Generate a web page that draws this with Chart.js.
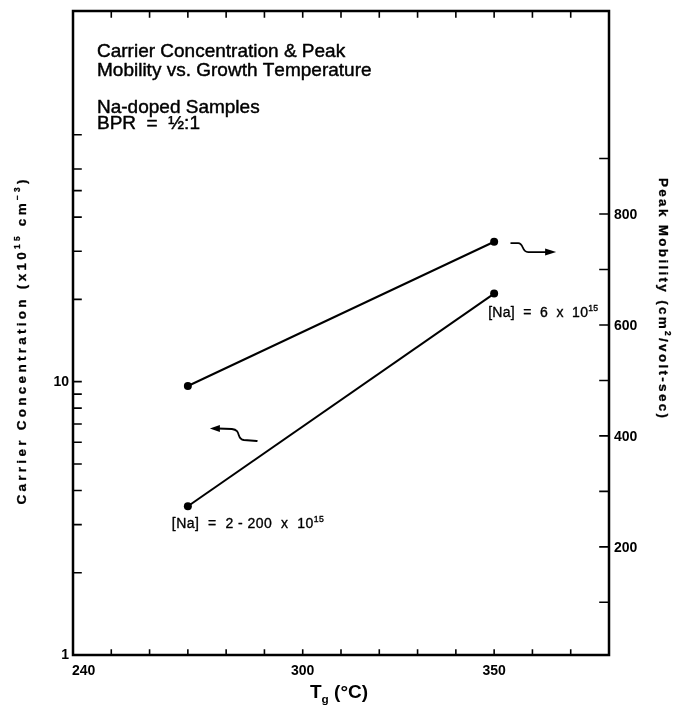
<!DOCTYPE html>
<html>
<head>
<meta charset="utf-8">
<script src="https://cdn.jsdelivr.net/npm/chart.js@4.4.1/dist/chart.umd.min.js"></script>
<style>
  html, body { margin: 0; padding: 0; background: #fff; }
  canvas { display: block; }
</style>
</head>
<body>
<canvas id="chart" width="678" height="714"></canvas>
<script>
// Growth temperature (°C) of the Na-doped samples
const growthTemps = [270, 350];
// Carrier concentration, x10^15 cm^-3 (left, logarithmic axis)
const carrierConc = [3.5, 21];
// Peak mobility, cm^2/volt-sec (right axis)
const peakMobility = [490, 750];

// Axis ticks and the labels printed beside them
const xTickValues = [240, 250, 260, 270, 280, 290, 300, 310, 320, 330, 340, 350, 360, 370, 380];
const xTickLabels = ['240', '300', '350'];
const leftTickValues = [1, 2, 3, 4, 5, 6, 7, 8, 9, 10, 20, 30, 40, 50, 60, 80];
const leftTickLabels = ['1', '10'];
const rightTickValues = [100, 200, 300, 400, 500, 600, 700, 800, 900];
const rightTickLabels = ['200', '400', '600', '800'];

const FONT = '"Liberation Sans", Arial, Helvetica, sans-serif';
const INK = '#000';

// Rich text: runs of plain / superscript / subscript characters,
// optionally spread out to a given overall width.
function runChars(runs, size) {
  const out = [];
  for (const r of runs) {
    const s = (r.sup || r.sub) ? size * 0.62 : size;
    const dy = r.sup ? -size * 0.42 : (r.sub ? size * 0.28 : 0);
    for (const ch of r.t) out.push({ ch, s, dy });
  }
  return out;
}
function drawRuns(ctx, runs, x, y, o) {
  const size = o.size, weight = o.weight || 'normal';
  const chars = runChars(runs, size);
  let natural = 0;
  for (const c of chars) {
    ctx.font = `${weight} ${c.s}px ${FONT}`;
    c.w = ctx.measureText(c.ch).width;
    natural += c.w;
  }
  const extra = o.width ? (o.width - natural) / Math.max(1, chars.length - 1) : 0;
  const total = natural + extra * (chars.length - 1);
  let cx = x;
  if (o.align === 'center') cx = x - total / 2;
  else if (o.align === 'right') cx = x - total;
  ctx.textAlign = 'left';
  ctx.textBaseline = 'alphabetic';
  ctx.fillStyle = INK;
  ctx.strokeStyle = INK;
  ctx.lineWidth = o.ink || 0;
  ctx.lineJoin = 'round';
  for (const c of chars) {
    ctx.font = `${weight} ${c.s}px ${FONT}`;
    ctx.fillText(c.ch, cx, y + c.dy);
    if (o.ink) ctx.strokeText(c.ch, cx, y + c.dy);
    cx += c.w + extra;
  }
}
function drawRotated(ctx, runs, cx, cy, angle, o) {
  ctx.save();
  ctx.translate(cx, cy);
  ctx.rotate(angle);
  drawRuns(ctx, runs, 0, o.size * 0.36, Object.assign({ align: 'center' }, o));
  ctx.restore();
}

// Wavy pointer arrows that tell which axis each curve belongs to
function drawWavyArrow(ctx, p, shape) {
  const P = (d) => [p.x + d[0], p.y + d[1]];
  ctx.save();
  ctx.strokeStyle = INK;
  ctx.fillStyle = INK;
  ctx.lineWidth = 1.8;
  ctx.lineCap = 'round';
  ctx.beginPath();
  const s = P(shape.start), l1 = P(shape.l1), c1 = P(shape.c1), c2 = P(shape.c2), e = P(shape.e), l2 = P(shape.l2);
  ctx.moveTo(s[0], s[1]);
  ctx.lineTo(l1[0], l1[1]);
  ctx.bezierCurveTo(c1[0], c1[1], c2[0], c2[1], e[0], e[1]);
  ctx.lineTo(l2[0], l2[1]);
  ctx.stroke();
  const tip = P(shape.tip), b1 = P(shape.b1), b2 = P(shape.b2);
  ctx.beginPath();
  ctx.moveTo(tip[0], tip[1]);
  ctx.lineTo(b1[0], b1[1]);
  ctx.lineTo(b2[0], b2[1]);
  ctx.closePath();
  ctx.fill();
  ctx.restore();
}

const decorations = {
  id: 'decorations',
  afterDatasetsDraw(chart) {
    const ctx = chart.ctx;
    const a = chart.chartArea;
    const xs = chart.scales.x, yl = chart.scales.y, yr = chart.scales.y1;

    ctx.save();
    ctx.strokeStyle = INK;
    ctx.lineCap = 'square';

    // Frame
    ctx.lineWidth = 2.5;
    ctx.strokeRect(a.left, a.top, a.right - a.left, a.bottom - a.top);

    // Inward tick marks
    ctx.lineWidth = 1.6;
    ctx.beginPath();
    for (const v of xTickValues) {
      const px = xs.getPixelForValue(v);
      if (px <= a.left + 1 || px >= a.right - 1) continue;
      ctx.moveTo(px, a.bottom); ctx.lineTo(px, a.bottom - 5);
      ctx.moveTo(px, a.top); ctx.lineTo(px, a.top + 6);
    }
    for (const v of leftTickValues) {
      const py = yl.getPixelForValue(v);
      if (py >= a.bottom - 1) continue;
      ctx.moveTo(a.left, py); ctx.lineTo(a.left + 8, py);
    }
    for (const v of rightTickValues) {
      const py = yr.getPixelForValue(v);
      ctx.moveTo(a.right, py); ctx.lineTo(a.right - 9, py);
    }
    ctx.stroke();
    ctx.restore();

    // Tick labels
    const tickFont = { size: 14, weight: 'bold' };
    for (const lab of xTickLabels) {
      const v = Number(lab);
      const px = xs.getPixelForValue(v);
      const align = (v === xs.min) ? 'left' : 'center';
      drawRuns(ctx, [{ t: lab }], align === 'left' ? px - 1 : px, a.bottom + 20, Object.assign({ align }, tickFont));
    }
    for (const lab of leftTickLabels) {
      const py = yl.getPixelForValue(Number(lab));
      drawRuns(ctx, [{ t: lab }], a.left - 4, py + 4, Object.assign({ align: 'right' }, tickFont));
    }
    for (const lab of rightTickLabels) {
      const py = yr.getPixelForValue(Number(lab));
      drawRuns(ctx, [{ t: lab }], a.right + 5, py + 5, Object.assign({ align: 'left' }, tickFont));
    }

    // Axis titles
    drawRuns(ctx, [{ t: 'T' }, { t: 'g', sub: true }, { t: ' (°C)' }],
      (a.left + a.right) / 2 - 2, a.bottom + 43, { size: 19, weight: 'bold', align: 'center' });
    drawRotated(ctx,
      [{ t: 'Carrier Concentration (x10' }, { t: '15', sup: true }, { t: ' cm' }, { t: '\u22123', sup: true }, { t: ')' }],
      21, 342, -Math.PI / 2, { size: 13.5, weight: 'bold', width: 325, ink: 0.3 });
    drawRotated(ctx,
      [{ t: 'Peak Mobility (cm' }, { t: '2', sup: true }, { t: '/volt-sec)' }],
      664, 298, Math.PI / 2, { size: 13.5, weight: 'bold', width: 240, ink: 0.3 });

    // Caption block inside the plot
    const cap = { size: 19, weight: 'normal', align: 'left', ink: 0.45 };
    const tx = a.left + 24;
    drawRuns(ctx, [{ t: 'Carrier Concentration & Peak' }], tx, 56.5, cap);
    drawRuns(ctx, [{ t: 'Mobility vs. Growth Temperature' }], tx, 76, cap);
    drawRuns(ctx, [{ t: 'Na-doped Samples' }], tx, 112.5, cap);
    drawRuns(ctx, [{ t: 'BPR  =  ½:1' }], tx, 128.5, cap);

    // Sodium concentration notes beside the carrier curve
    const cHi = { x: xs.getPixelForValue(growthTemps[1]), y: yl.getPixelForValue(carrierConc[1]) };
    const cLo = { x: xs.getPixelForValue(growthTemps[0]), y: yl.getPixelForValue(carrierConc[0]) };
    drawRuns(ctx, [{ t: '[Na]  =  6  x  10' }, { t: '15', sup: true }],
      cHi.x - 6, cHi.y + 23, { size: 14, align: 'left', width: 110, ink: 0.35 });
    drawRuns(ctx, [{ t: '[Na]  =  2 - 200  x  10' }, { t: '15', sup: true }],
      cLo.x - 16, cLo.y + 22, { size: 14, align: 'left', width: 152, ink: 0.35 });

    // Pointer arrows: mobility curve -> right axis, carrier curve -> left axis
    const mHi = { x: xs.getPixelForValue(growthTemps[1]), y: yr.getPixelForValue(peakMobility[1]) };
    drawWavyArrow(ctx, mHi, {
      start: [17, 1.3], l1: [24, 1.3], c1: [30, 1.3], c2: [27, 10.3], e: [34, 10.3], l2: [53, 10.3],
      tip: [62, 10.3], b1: [51, 6.8], b2: [51, 13.8]
    });
    drawWavyArrow(ctx, cLo, {
      start: [69, -65.3], l1: [56, -66.3], c1: [48, -67.3], c2: [54, -76.3], e: [44, -77.3], l2: [30, -77.8],
      tip: [22, -77.8], b1: [32, -81.3], b2: [32, -74.3]
    });
  }
};

const lineStyle = {
  borderColor: INK,
  borderWidth: 2,
  pointRadius: 4,
  pointBackgroundColor: INK,
  pointBorderWidth: 0,
  tension: 0,
  clip: false
};

new Chart(document.getElementById('chart'), {
  type: 'line',
  data: {
    datasets: [
      Object.assign({
        label: 'Carrier Concentration',
        yAxisID: 'y',
        data: growthTemps.map((t, i) => ({ x: t, y: carrierConc[i] }))
      }, lineStyle),
      Object.assign({
        label: 'Peak Mobility',
        yAxisID: 'y1',
        data: growthTemps.map((t, i) => ({ x: t, y: peakMobility[i] }))
      }, lineStyle)
    ]
  },
  options: {
    responsive: false,
    animation: false,
    events: [],
    layout: { padding: { left: 73, right: 69, top: 11, bottom: 59 } },
    plugins: { legend: { display: false }, tooltip: { enabled: false } },
    scales: {
      x: { type: 'linear', min: 240, max: 380, display: false },
      y: { type: 'logarithmic', position: 'left', min: 1, max: 227, display: false },
      y1: { type: 'linear', position: 'right', min: 5, max: 1166, display: false }
    }
  },
  plugins: [decorations]
});
</script>
</body>
</html>
